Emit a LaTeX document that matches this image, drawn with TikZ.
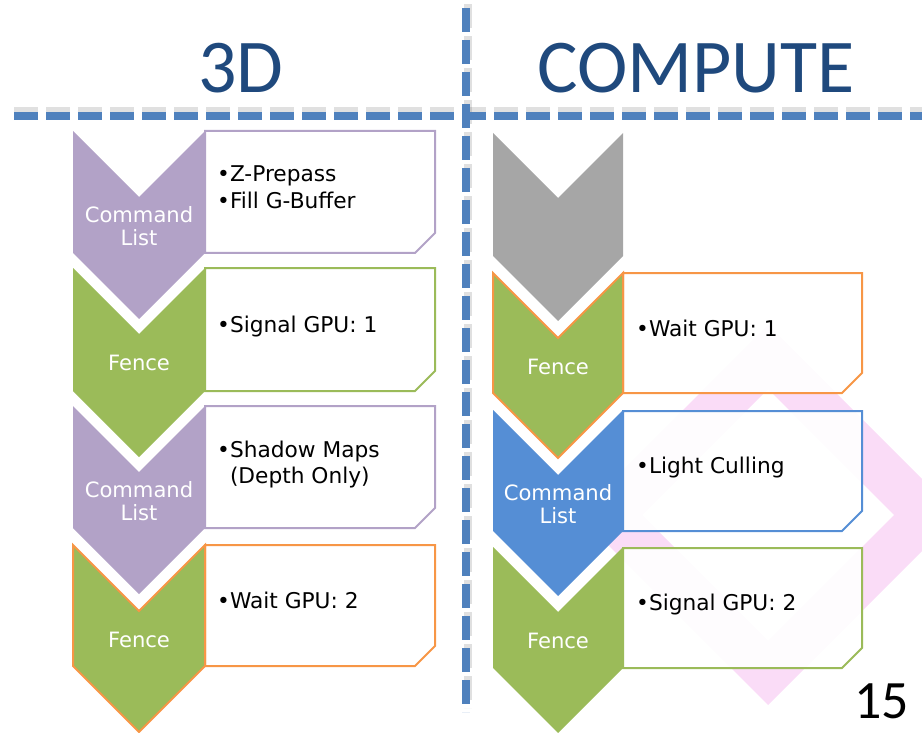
\documentclass[tikz,border=0pt]{standalone}
\usepackage{fontspec}
\setmainfont{DejaVu Sans}
\newfontfamily\headfont{Carlito}

\definecolor{cmdpurple}{HTML}{B2A2C7}
\definecolor{fencegreen}{HTML}{9BBB59}
\definecolor{cmdblue}{HTML}{558ED5}
\definecolor{idlegray}{HTML}{A6A6A6}
\definecolor{waitorange}{HTML}{F79646}
\definecolor{headblue}{HTML}{1F497D}
\definecolor{dashblue}{HTML}{4F81BD}
\definecolor{wmpink}{RGB}{250,220,247}

\tikzset{
  chev/.style={line width=2pt, line join=miter},
  itembox/.style={line width=2pt, fill=white, fill opacity=0.92},
  chevtxt/.style={text=white, align=center, inner sep=0pt,
    font=\fontsize{21.1}{23}\selectfont},
  itemtxt/.style={anchor=base west, inner sep=0pt,
    font=\fontsize{21.7}{27}\selectfont},
  headtxt/.style={anchor=base, inner sep=0pt, text=headblue,
    font=\headfont\fontsize{76}{76}\selectfont},
  divider/.style={dashblue, line width=8pt, dash pattern=on 24pt off 8pt},
  dividershadow/.style={black, opacity=0.12, line width=8pt, dash pattern=on 24pt off 8pt}
}

\begin{document}
\begin{tikzpicture}[x=1pt,y=-1pt]
  \useasboundingbox (0,0) rectangle (922,733);

  % faint logo behind the boxes
  \fill[wmpink, even odd rule]
    (768,325) -- (958,515) -- (768,705) -- (578,515) -- cycle
    (768,389) -- (894,515) -- (768,641) -- (642,515) -- cycle;

  % headings
  \node[headtxt] (h3d) at (241,93) {3D};
  \node[headtxt] (hcompute) at (696,93) {COMPUTE};

  % dividers
  \coordinate (hl) at (14,116);
  \coordinate (hr) at (922,116);
  \coordinate (vt) at (466,8);
  \coordinate (vb) at (466,712);
  \draw[dividershadow] ([yshift=5pt]hl) -- ([yshift=5pt]hr);
  \draw[dividershadow] ([xshift=2pt,yshift=4pt]vt) -- ([xshift=2pt,yshift=4pt]vb);
  \draw[divider] (hl) -- (hr);
  \draw[divider] (vt) -- (vb);

  % 3D column
  \draw[itembox, draw=cmdpurple]
    (205,131) -- (435,131) -- (435,233) -- (415,253) -- (205,253) -- cycle;
  \fill[cmdpurple]
    (73,131) -- (139,197) -- (205,131) -- (205,253) -- (139,319) -- (73,253) -- cycle;
  \node[chevtxt] (cl1) at (139,226) {Command\\List};
  \node[itemtxt] (zpre) at (217,182) {•Z-Prepass};
  \node[itemtxt] (gbuf) at (217,209) {•Fill G-Buffer};

  \draw[itembox, draw=fencegreen]
    (205,268) -- (435,268) -- (435,371) -- (415,391) -- (205,391) -- cycle;
  \fill[fencegreen]
    (73,268) -- (139,334) -- (205,268) -- (205,391) -- (139,457) -- (73,391) -- cycle;
  \node[chevtxt] (fence1) at (139,363) {Fence};
  \node[itemtxt] (sig1) at (217,332) {•Signal GPU: 1};

  \draw[itembox, draw=cmdpurple]
    (205,406) -- (435,406) -- (435,508) -- (415,528) -- (205,528) -- cycle;
  \fill[cmdpurple]
    (73,406) -- (139,472) -- (205,406) -- (205,528) -- (139,594) -- (73,528) -- cycle;
  \node[chevtxt] (cl2) at (139,501) {Command\\List};
  \node[itemtxt] (shadow) at (217,457) {•Shadow Maps};
  \node[itemtxt] (depth) at (217,483) {\hphantom{•}(Depth Only)};

  \draw[itembox, draw=waitorange]
    (205,545) -- (435,545) -- (435,646) -- (415,666) -- (205,666) -- cycle;
  \draw[chev, draw=waitorange, fill=fencegreen]
    (73,545) -- (139,611) -- (205,545) -- (205,666) -- (139,732) -- (73,666) -- cycle;
  \node[chevtxt] (fence2) at (139,640) {Fence};
  \node[itemtxt] (wait2) at (217,608) {•Wait GPU: 2};

  % COMPUTE column
  \fill[idlegray]
    (493,133) -- (558,198) -- (623,133) -- (623,256) -- (558,321) -- (493,256) -- cycle;

  \draw[itembox, draw=waitorange]
    (623,273) -- (862,273) -- (862,373) -- (842,393) -- (623,393) -- cycle;
  \draw[chev, draw=waitorange, fill=fencegreen]
    (493,273) -- (558,338) -- (623,273) -- (623,393) -- (558,458) -- (493,393) -- cycle;
  \node[chevtxt] (fence3) at (558,367) {Fence};
  \node[itemtxt] (wait1) at (636,336) {•Wait GPU: 1};

  \draw[itembox, draw=cmdblue]
    (623,411) -- (862,411) -- (862,511) -- (842,531) -- (623,531) -- cycle;
  \fill[cmdblue]
    (493,410) -- (558,475) -- (623,410) -- (623,531) -- (558,596) -- (493,531) -- cycle;
  \node[chevtxt] (cl3) at (558,504) {Command\\List};
  \node[itemtxt] (cull) at (636,473) {•Light Culling};

  \draw[itembox, draw=fencegreen]
    (623,548) -- (862,548) -- (862,648) -- (842,668) -- (623,668) -- cycle;
  \fill[fencegreen]
    (493,547) -- (558,612) -- (623,547) -- (623,668) -- (558,733) -- (493,668) -- cycle;
  \node[chevtxt] (fence4) at (558,641) {Fence};
  \node[itemtxt] (sig2) at (636,610) {•Signal GPU: 2};

  % slide number
  \node[anchor=base east, inner sep=0pt, font=\headfont\fontsize{54}{54}\selectfont]
    (pgnum) at (909,718) {15};
\end{tikzpicture}
\end{document}
